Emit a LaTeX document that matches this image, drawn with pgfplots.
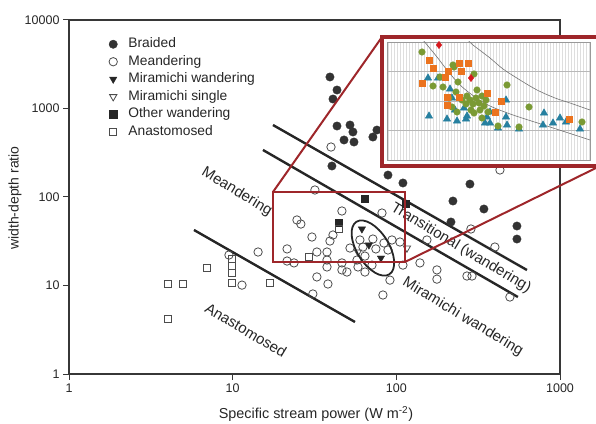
\documentclass[border=0pt]{standalone}
\usepackage{pgfplots}
\pgfplotsset{compat=1.18}
\usepackage{fontspec}
\setmainfont{Liberation Sans}
\definecolor{axgray}{RGB}{55,55,55}
\definecolor{insetred}{RGB}{158,38,42}
\definecolor{orng}{RGB}{235,115,30}
\definecolor{grn}{RGB}{122,154,52}
\definecolor{blu}{RGB}{38,128,160}
\definecolor{rdd}{RGB}{215,25,30}
\pgfplotsset{dotlegend/.style={legend image code/.code={\draw[##1] plot coordinates {(0pt,0pt)};}}}
\begin{document}
\begin{tikzpicture}
\path[use as bounding box] (0pt,0pt) rectangle (596pt,423pt);
\begin{axis}[
  at={(69pt,49pt)}, anchor=south west, scale only axis,
  width=491pt, height=354pt,
  xmode=log, ymode=log, xmin=1, xmax=1000, ymin=1, ymax=10000,
  xtick={1,10,100,1000}, xticklabels={1,10,100,1000},
  ytick={1,10,100,1000,10000}, yticklabels={1,10,100,1000,10000},
  xminorticks=false, yminorticks=false,
  tick align=outside, tick pos=left, major tick length=6pt,
  axis line style={draw=axgray, line width=1.1pt},
  every tick/.style={draw=axgray, line width=1pt},
  ticklabel style={font=\fontsize{12.5}{14}\selectfont, text=black!85},
  xlabel={Specific stream power (W m\textsuperscript{-2})},
  xlabel style={at={(axis description cs:0.503,-0.113)}, anchor=center, font=\fontsize{14.4}{16}\selectfont, text=black!85},
  ylabel={width-depth ratio},
  ylabel style={at={(axis description cs:-0.110,0.497)}, anchor=center, font=\fontsize{14}{16}\selectfont, text=black!85},
  legend style={at={(axis description cs:0.0815,0.952)}, anchor=north west, draw=none, fill=none,
    inner sep=0pt, outer sep=0pt, row sep=3pt, font=\fontsize{13.8}{15}\selectfont,
    nodes={inner sep=0pt, text height=11pt, text depth=3.5pt, text=black!85},
    /tikz/every odd column/.append style={column sep=11pt}},
  legend cell align=left,
]
% class boundary lines
\addplot[forget plot, black!85, line width=2.4pt] coordinates {(17.63,651) (628,14.96)};
\addplot[forget plot, black!85, line width=2.4pt] coordinates {(15.31,340) (553,7.41)};
\addplot[forget plot, black!85, line width=2.4pt] coordinates {(5.80,42.4) (55.9,3.87)};

\addplot[only marks, dotlegend, mark=*, mark size=4.2pt, draw=black!80, fill=black!80] coordinates {
(39.3,2270) (43.4,1618) (41.0,1280) (43.4,634) (52.1,651) (54.3,543) (47.9,441) (55.1,418)
(71.9,476) (76.1,571) (40.4,224) (88.9,177) (109.7,144) (281.6,140) (221.7,90.1) (342.8,73.2)
(215.6,52.2) (545.5,47.0) (545.5,33.5)};
\addlegendentry{Braided}

\addplot[only marks, dotlegend, mark=o, mark size=4.2pt, draw=black!70, line width=0.8pt] coordinates {
(9.49,22.1) (11.4,10.1) (14.3,23.9) (21.5,25.9) (21.5,18.9) (23.7,18.0) (24.7,55.0) (26.1,49.5)
(31.8,120) (30.5,35.3) (32.7,23.9) (37.7,23.9) (41.0,37.2) (39.3,31.8) (46.5,69.5) (37.7,19.4)
(46.5,18.0) (37.7,16.2) (46.5,15.0) (49.9,14.2) (32.7,12.5) (38.2,10.4) (30.9,8.02) (58.3,16.2)
(64.3,14.2) (81.7,65.9) (94.0,32.7) (109.7,17.0) (91.4,11.5) (82.8,7.81) (139.4,18.0) (153.8,32.7)
(177,15.0) (177,11.8) (270,12.8) (290,12.8) (285.5,43.5) (400,27.2) (494,7.41) (429.5,202)
(39.9,367) (105.2,31.0) (59.9,32.7) (62.5,27.2) (71.9,33.5) (75.0,25.9) (64.3,21.5) (57.5,19.4)
(84.0,30.2) (88.9,25.2) (52.1,26.5) (71.0,17.0)};
\addlegendentry{Meandering}

\addplot[only marks, dotlegend, mark=triangle*, mark size=4.2pt, mark options={rotate=180}, draw=black!85, fill=black!85] coordinates {
(61.6,43.5) (68.0,28.7) (80.5,20.4)};
\addlegendentry{Miramichi wandering}

\addplot[only marks, dotlegend, mark=triangle, mark size=4.2pt, mark options={rotate=180}, draw=black!70, line width=0.8pt] coordinates {
(116.1,26.5) (58.3,23.9)};
\addlegendentry{Miramichi single}

\addplot[only marks, dotlegend, mark=square*, mark size=3.6pt, draw=black!85, fill=black!85] coordinates {
(64.3,94.9) (44.6,50.9) (114.5,83.4)};
\addlegendentry{Other wandering}

\addplot[only marks, dotlegend, mark=square, mark size=3.6pt, draw=black!70, line width=0.8pt] coordinates {
(4.03,10.4) (4.97,10.4) (6.97,15.8) (9.9,19.9) (9.9,16.6) (9.9,13.8) (9.9,10.7) (16.9,10.7)
(4.03,4.18) (29.2,21.0) (44.6,43.5)};
\addlegendentry{Anastomosed}

\node[rotate=-31, font=\fontsize{15}{17}\selectfont, text=black!85] at (axis cs:10.6,113.9) {Meandering};
\node[rotate=-31, font=\fontsize{15}{17}\selectfont, text=black!85] at (axis cs:248,26.5) {Transitional (wandering)};
\node[rotate=-31, font=\fontsize{15}{17}\selectfont, text=black!85] at (axis cs:255,4.41) {Miramichi wandering};
\node[rotate=-31, font=\fontsize{15}{17}\selectfont, text=black!85] at (axis cs:12.06,3.14) {Anastomosed};

\coordinate (ec) at (axis cs:71.9,26.5);
\coordinate (rA) at (axis cs:17.63,113.9);
\coordinate (rB) at (axis cs:112.9,18.44);
\end{axis}

\draw[black!85, line width=1.8pt, rotate around={32:(ec)}] (ec) ellipse [x radius=16pt, y radius=31pt];
\draw[insetred, line width=2.4pt] (rA) rectangle (rB);
\draw[insetred, line width=2pt] (rA) -- (382pt,386pt);
\draw[insetred, line width=2pt] (rB) -- (600pt,257pt);
\draw[insetred, line width=3.5pt, fill=white] (382pt,257pt) rectangle (602pt,386pt);

\begin{axis}[
  at={(387pt,263pt)}, anchor=south west, scale only axis,
  width=203pt, height=118pt,
  xmin=387, xmax=590, ymin=-160, ymax=-42,
  xtick={388,391,...,589}, ytick={-130.5,-101,-71.5},
  xticklabels={}, yticklabels={},
  major tick length=0pt, grid=major,
  x grid style={black!13, line width=0.35pt},
  y grid style={black!28, line width=0.9pt},
  axis line style={black!40, line width=0.8pt},
]
\addplot[smooth, black!55, line width=0.6pt] coordinates {
(468,-40) (473,-45) (490,-58) (503,-69) (520,-80) (537,-90) (555,-98) (570,-103) (590,-110)};
\addplot[smooth, black!55, line width=0.6pt] coordinates {
(423,-40) (437,-57) (447,-70) (460,-85) (475,-97) (490,-106) (513,-115) (547,-126) (590,-140)};

\addplot[only marks, mark=triangle*, mark size=4.2pt, color=blu] coordinates {
(428,-78) (438,-78) (450,-89) (452,-98) (429,-116) (447,-119) (457,-121) (466,-119) (455,-110)
(464,-108) (490,-112) (485,-123) (490,-123) (498,-128) (506,-117) (506,-100) (519,-129) (544,-113)
(543,-125) (553,-123) (560,-118) (566,-122) (580,-129) (487,-117) (507,-125) (467,-116)};

\addplot[only marks, mark=*, mark size=3.3pt, color=grn] coordinates {
(422,-52) (433,-86) (443,-87) (453,-65) (458,-82) (474,-74) (477,-90) (507,-85) (529,-107)
(582,-122) (452,-107) (449,-98) (480,-110) (482,-118) (498,-126) (519,-127) (467,-96) (470,-100)
(473,-104) (476,-98) (479,-103) (484,-106) (471,-110) (466,-104) (462,-100) (488,-112) (474,-113)
(456,-92) (486,-100) (482,-96) (457,-112) (440,-77) (454,-67)};

\addplot[only marks, mark=square*, mark size=3.2pt, color=orng] coordinates {
(429,-60) (433,-68) (422,-83) (459,-63) (468,-63) (461,-71) (448,-71) (445,-77) (447,-97)
(447,-105) (459,-97) (487,-93) (501,-101) (495,-112) (569,-119)};

\addplot[only marks, mark=diamond*, mark size=3.6pt, color=rdd] coordinates {
(439,-45) (471,-78)};
\end{axis}
\end{tikzpicture}
\end{document}
